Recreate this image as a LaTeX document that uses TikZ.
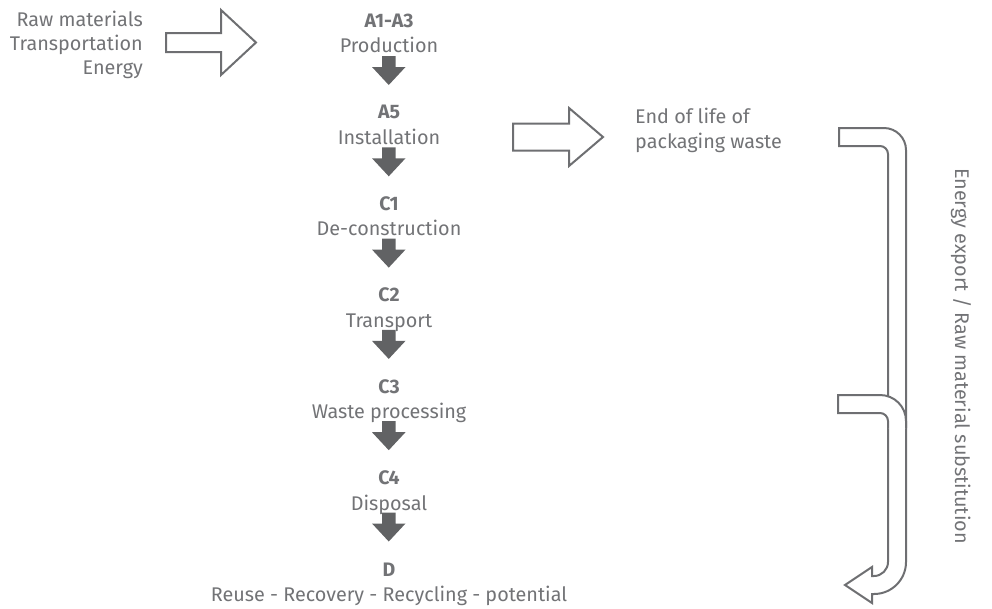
\documentclass[tikz,border=0pt]{standalone}
\usepackage{fontspec}
\setmainfont{Fira Sans}
\begin{document}
\begin{tikzpicture}[x=1pt,y=-1pt,
  txt/.style={inner sep=0pt, text=textgray, font=\fontsize{19.8}{24}\selectfont},
  lbl/.style={txt, font=\fontsize{19.5}{23}\selectfont\bfseries},
  downarrow/.style={fill=arrowgray, draw=none},
  outline/.style={draw=linegray, line width=2pt, line join=miter},
]
\definecolor{textgray}{HTML}{727376}
\definecolor{arrowgray}{HTML}{616264}
\definecolor{linegray}{HTML}{6E6F72}
\useasboundingbox (0,0) rectangle (992,608);

% left inputs
\node[txt, anchor=base east] (raw) at (143,26) {Raw materials};
\node[txt, anchor=base east] (trans) at (143,50) {Transportation};
\node[txt, anchor=base east] (energy) at (143,74) {Energy};

% input hollow arrow
\draw[outline] (166,33) -- (221,33) -- (221,10) -- (256,42.5) -- (221,75) -- (221,52) -- (166,52) -- cycle;

% stages
\foreach \i/\code/\name/\nm in {0/A1-A3/Production/a,1/A5/Installation/b,2/C1/De-construction/c,3/C2/Transport/d,4/C3/Waste processing/e,5/C4/Disposal/f,6/D/Reuse - Recovery - Recycling - potential/g}{
  \node[lbl, anchor=base] (code\nm) at (389,27+91.5*\i) {\code};
  \node[txt, anchor=base] (name\nm) at (389,52.5+91.5*\i) {\name};
}
% filled down arrows
\foreach \i in {0,...,5}{
  \fill[downarrow] (382,56+91.3*\i) -- (395.5,56+91.3*\i) -- (395.5,67+91.3*\i) -- (405.5,67+91.3*\i)
    -- (388.75,85+91.3*\i) -- (372,67+91.3*\i) -- (382,67+91.3*\i) -- cycle;
}

% installation hollow arrow
\draw[outline] (513,123.5) -- (569,123.5) -- (569,108) -- (603,137) -- (569,166) -- (569,150.5) -- (513,150.5) -- cycle;

\node[txt, anchor=base west] (eol1) at (635,123) {End of life of};
\node[txt, anchor=base west] (eol2) at (635,148) {packaging waste};

% bent channel arrow
\draw[outline] (839,128) -- (884,128) .. controls (896.1,128) and (906,137.9) .. (906,150)
  -- (906,562) .. controls (906,579.7) and (891.7,594) .. (874,594)
  -- (872,594) -- (872,603) -- (845,585) -- (872,567) -- (872,576) -- (874,576)
  .. controls (881.7,576) and (888,569.7) .. (888,562)
  -- (888,154) .. controls (888,149.6) and (884.4,146) .. (880,146)
  -- (839,146) -- cycle;

% lower branch joining channel
\fill[white] (838,395) -- (880,395) .. controls (894.4,395) and (906,406.6) .. (906,421)
  -- (906,428) -- (888,428) -- (888,421) .. controls (888,416.6) and (884.4,413) .. (880,413)
  -- (838,413) -- cycle;
\draw[outline] (906,428) -- (906,421) .. controls (906,406.6) and (894.4,395) .. (880,395)
  -- (838,395) -- (838,413) -- (880,413) .. controls (884.4,413) and (888,416.6) .. (888,421) -- (888,428);

% rotated label
\node[txt, rotate=-90] (export) at (961,356) {Energy export / Raw material substitution};
\end{tikzpicture}
\end{document}
